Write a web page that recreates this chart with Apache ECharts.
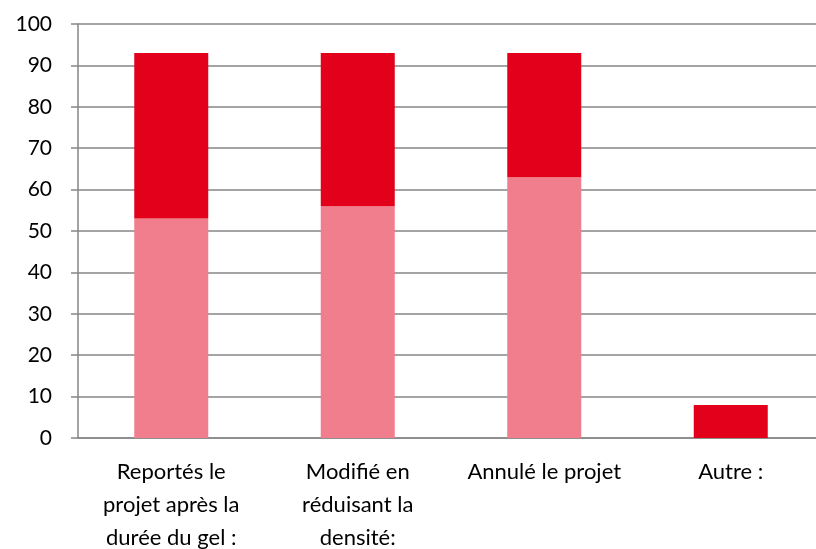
<!DOCTYPE html>
<html>
<head>
<meta charset="utf-8">
<script src="https://cdn.jsdelivr.net/npm/echarts@6/dist/echarts.min.js"></script>
<style>
  html, body { margin: 0; padding: 0; background: #fff; }
  #chart { width: 816px; height: 549px; }
</style>
</head>
<body>
<div id="chart"></div>
<script>
const categories = [
  'Reportés le\nprojet après la\ndurée du gel :',
  'Modifié en\nréduisant la\ndensité:',
  'Annulé le projet',
  'Autre :'
];
const lowerValues = [53, 56, 63, 0];
const upperValues = [40, 37, 30, 8];
const yTicks = { min: 0, max: 100, interval: 10 };

const chart = echarts.init(document.getElementById('chart'));
chart.setOption({
  animation: false,
  textStyle: { fontFamily: 'Lato, "Open Sans", sans-serif' },
  grid: { left: 78, top: 24, width: 746, bottom: 111, outerBoundsMode: 'none', containLabel: false },
  xAxis: {
    type: 'category',
    data: categories,
    axisLine: { lineStyle: { color: '#868686', width: 1.5 } },
    axisTick: { length: 7, lineStyle: { color: '#868686', width: 1.5 } },
    axisLabel: { color: '#000', fontSize: 22, lineHeight: 33, margin: 17, interval: 0 }
  },
  yAxis: {
    type: 'value',
    min: yTicks.min,
    max: yTicks.max,
    interval: yTicks.interval,
    axisLine: { show: true, lineStyle: { color: '#868686', width: 1.5 } },
    axisTick: { show: true, length: 7, lineStyle: { color: '#868686', width: 1.5 } },
    splitLine: { lineStyle: { color: '#868686', width: 1.5 } },
    axisLabel: { color: '#000', fontSize: 21, margin: 26 }
  },
  series: [
    {
      type: 'bar', stack: 'a', data: lowerValues, barWidth: 74,
      itemStyle: { color: '#F07E8C' }
    },
    {
      type: 'bar', stack: 'a', data: upperValues, barWidth: 74,
      itemStyle: { color: '#E2001A' }
    }
  ]
});
</script>
</body>
</html>
